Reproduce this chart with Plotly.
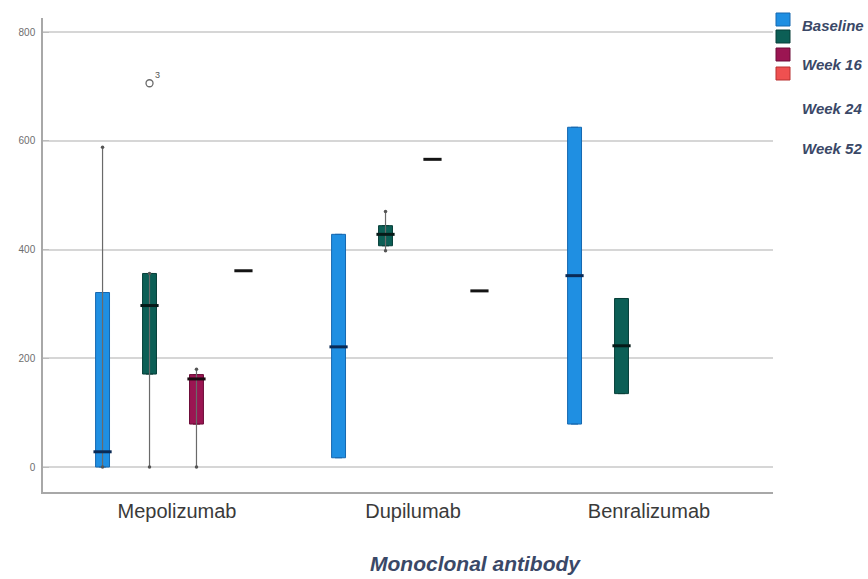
import plotly.graph_objects as go

# ---------------- data ----------------
categories = ["Mepolizumab", "Dupilumab", "Benralizumab"]
series_names = ["Baseline", "Week 16", "Week 24", "Week 52"]

baseline_lower = [0, 17, 79]
baseline_q1 = [0, 17, 79]
baseline_median = [28, 221, 352]
baseline_q3 = [321, 428, 625]
baseline_upper = [588, 428, 625]

week16_lower = [0, 398, 135]
week16_q1 = [171, 407, 135]
week16_median = [297, 428, 223]
week16_q3 = [356, 444, 310]
week16_upper = [356, 470, 310]

week24_lower = [0, 566, None]
week24_q1 = [79, 566, None]
week24_median = [162, 566, None]
week24_q3 = [170, 566, None]
week24_upper = [180, 566, None]

week52_lower = [361, 324, None]
week52_q1 = [361, 324, None]
week52_median = [361, 324, None]
week52_q3 = [361, 324, None]
week52_upper = [361, 324, None]

outlier_category = ["Mepolizumab"]
outlier_series = ["Week 16"]
outlier_value = [706]
outlier_label = ["3"]

y_ticks = [0, 200, 400, 600, 800]

# ---------------- styles ----------------
fill_colors = ["#1f8fe2", "#0c5f56", "#9b1552", "#ef5050"]
line_colors = ["#1668b0", "#073f39", "#6c0c38", "#b83030"]
median_colors = ["#0a2a55", "#061a18", "#1a0a10", "#141414"]
GROUP_STEP = 0.199
BOX_W = 0.059

stats = [
    (baseline_lower, baseline_q1, baseline_median, baseline_q3, baseline_upper),
    (week16_lower, week16_q1, week16_median, week16_q3, week16_upper),
    (week24_lower, week24_q1, week24_median, week24_q3, week24_upper),
    (week52_lower, week52_q1, week52_median, week52_q3, week52_upper),
]

fig = go.Figure()


def xpos(ci, si):
    return ci + (si - (len(series_names) - 1) / 2) * GROUP_STEP


# whiskers (behind boxes)
for si, (lo, q1, med, q3, up) in enumerate(stats):
    for ci in range(len(categories)):
        if med[ci] is None:
            continue
        if lo[ci] < q1[ci] or up[ci] > q3[ci]:
            x = xpos(ci, si)
            fig.add_trace(go.Scatter(
                x=[x, x], y=[lo[ci], up[ci]], mode="lines+markers",
                line=dict(color="#6a6a6a", width=1.2),
                marker=dict(size=3.5, color="#555555"),
                showlegend=False, hoverinfo="skip"))

# boxes
for si, (lo, q1, med, q3, up) in enumerate(stats):
    idx = [ci for ci in range(len(categories)) if med[ci] is not None]
    fig.add_trace(go.Box(
        name=series_names[si],
        x=[xpos(ci, si) for ci in idx],
        q1=[q1[ci] for ci in idx],
        median=[med[ci] for ci in idx],
        q3=[q3[ci] for ci in idx],
        lowerfence=[q1[ci] for ci in idx],
        upperfence=[q3[ci] for ci in idx],
        width=BOX_W,
        fillcolor=fill_colors[si],
        line=dict(color=line_colors[si], width=1),
        boxpoints=False,
        showlegend=False))

# median dashes
for si, (lo, q1, med, q3, up) in enumerate(stats):
    idx = [ci for ci in range(len(categories)) if med[ci] is not None]
    single = [q1[ci] == q3[ci] for ci in idx]
    fig.add_trace(go.Scatter(
        x=[xpos(ci, si) for ci in idx],
        y=[med[ci] for ci in idx],
        mode="markers",
        marker=dict(symbol="line-ew", size=13,
                    color=["#141414" if s else median_colors[si] for s in single],
                    line=dict(color=["#141414" if s else median_colors[si]
                                     for s in single], width=3)),
        showlegend=False, hoverinfo="skip"))

# outlier
ox = [xpos(categories.index(c), series_names.index(s))
      for c, s in zip(outlier_category, outlier_series)]
fig.add_trace(go.Scatter(
    x=ox, y=outlier_value, mode="markers",
    marker=dict(symbol="circle-open", size=7, color="#6a6a6a",
                line=dict(color="#6a6a6a", width=1.3)),
    showlegend=False))
for x, v, lab in zip(ox, outlier_value, outlier_label):
    fig.add_annotation(x=x, y=v, text=lab, showarrow=False,
                       xshift=8, yshift=8,
                       font=dict(size=9, color="#555555",
                                 family="Liberation Sans"))

# ---------------- layout ----------------
L, R, T, B = 43, 773, 18, 492
W, H = 868, 579


def px(xp):
    return (xp - L) / (R - L)


def py(yp):
    return (B - yp) / (B - T)


# custom legend: stacked swatches and offset labels
sw_tops = [13, 30, 48, 67]
for si, top in enumerate(sw_tops):
    fig.add_shape(type="rect", xref="paper", yref="paper",
                  x0=px(776), x1=px(790), y0=py(top + 13), y1=py(top),
                  fillcolor=fill_colors[si],
                  line=dict(color=line_colors[si], width=1))
label_y = [25, 64, 108, 149]
for si, yy in enumerate(label_y):
    fig.add_annotation(xref="paper", yref="paper", x=px(800), y=py(yy),
                       text="<b><i>%s</i></b>" % series_names[si],
                       showarrow=False, xanchor="left", yanchor="middle",
                       font=dict(size=15, color="#3a4867",
                                 family="Liberation Sans"))

fig.add_annotation(xref="paper", yref="paper", x=px(475), y=py(563),
                   text="<b><i>Monoclonal antibody</i></b>",
                   showarrow=False, xanchor="center", yanchor="middle",
                   font=dict(size=21, color="#3a4867",
                             family="Liberation Sans"))

cat_center_px = [173, 409, 645]
x0v = (L - cat_center_px[0]) / (cat_center_px[1] - cat_center_px[0])
x1v = (R - cat_center_px[0]) / (cat_center_px[1] - cat_center_px[0])

fig.update_layout(
    width=W, height=H,
    margin=dict(l=L, r=W - R, t=T, b=H - B, pad=0),
    paper_bgcolor="white", plot_bgcolor="white",
    showlegend=False,
    xaxis=dict(range=[x0v, x1v], tickmode="array",
               tickvals=list(range(len(categories))), ticktext=categories,
               showgrid=False, zeroline=False, showline=True,
               linecolor="#a8a8a8", linewidth=1.5,
               ticks="", ticklabelstandoff=0, ticklabelshift=4,
               tickfont=dict(size=20, color="#3a3a3a",
                             family="Liberation Sans")),
    yaxis=dict(range=[-46, 826], tickmode="array", tickvals=y_ticks,
               showgrid=True, gridcolor="#d6d6d6", gridwidth=1.5,
               zeroline=False, showline=True,
               linecolor="#a8a8a8", linewidth=1.5,
               ticks="inside", ticklen=6, tickcolor="#bdbdbd",
               ticklabelstandoff=4,
               tickfont=dict(size=10, color="#6e6e6e",
                             family="Liberation Sans")),
)

fig.write_html("out.html")
